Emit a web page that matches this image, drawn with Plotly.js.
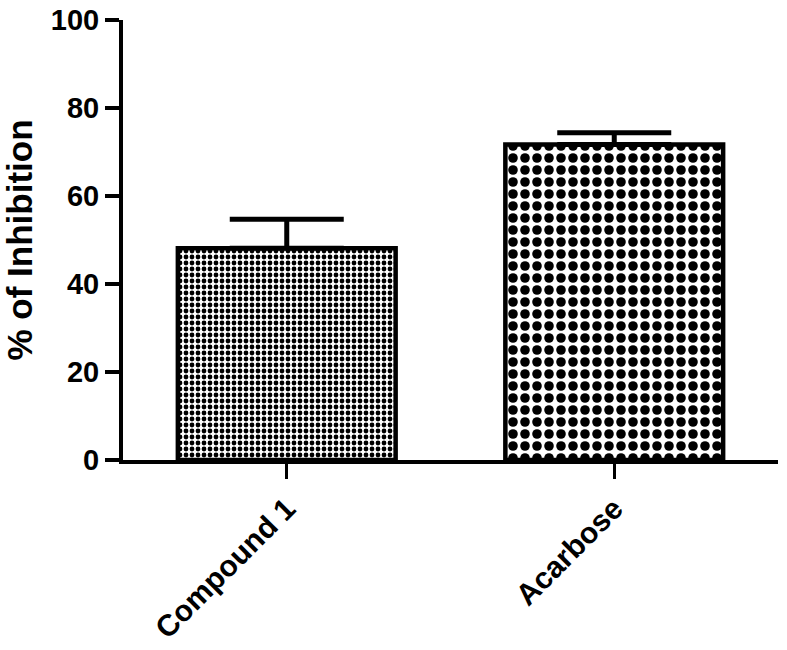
<!DOCTYPE html>
<html>
<head>
<meta charset="utf-8">
<script src="https://cdn.plot.ly/plotly-3.0.1.min.js"></script>
<style>
  body { margin: 0; background: #fff; }
  #chart { width: 787px; height: 650px; }
</style>
</head>
<body>
<div id="chart"></div>
<script>
// Data
var groups = ["Compound 1", "Acarbose"];
var inhibition = [48.1, 71.7];
var sem = [6.6, 2.7];
var noMinus = [0, 0];
var dotSizes = [6, 12];

var yTicks = [0, 20, 40, 60, 80, 100];

var font = "Liberation Sans, Arial, sans-serif";

var data = [{
  x: groups,
  y: inhibition,
  type: "bar",
  width: 0.665,
  marker: {
    color: "white",
    line: {color: "black", width: 4.5},
    pattern: {
      shape: ".",
      fgcolor: "black",
      bgcolor: "white",
      size: dotSizes,
      solidity: 0.5,
      fillmode: "replace"
    }
  },
  error_y: {
    type: "data",
    symmetric: false,
    array: sem,
    arrayminus: noMinus,
    color: "black",
    thickness: 5,
    width: 57
  },
  hoverinfo: "skip"
}];

var layout = {
  width: 787,
  height: 650,
  margin: {l: 123, r: 9, t: 20, b: 190},
  paper_bgcolor: "white",
  plot_bgcolor: "white",
  showlegend: false,
  xaxis: {
    range: [-0.5, 1.5],
    showline: true,
    linecolor: "black",
    linewidth: 4,
    ticks: "outside",
    ticklen: 15,
    tickwidth: 3,
    tickcolor: "black",
    tickangle: -45,
    showgrid: false,
    zeroline: false,
    tickfont: {family: font, size: 30, color: "black", weight: "bold"}
  },
  yaxis: {
    range: [0, 100],
    tickvals: yTicks,
    showline: true,
    linecolor: "black",
    linewidth: 4,
    ticks: "outside",
    ticklen: 14,
    tickwidth: 4,
    tickcolor: "black",
    showgrid: false,
    zeroline: false,
    tickfont: {family: font, size: 29, color: "black", weight: "bold"},
    title: {
      text: "% of Inhibition",
      font: {family: font, size: 35, color: "black", weight: "bold"},
      standoff: 16
    }
  }
};

Plotly.newPlot("chart", data, layout, {displayModeBar: false, staticPlot: true});
</script>
</body>
</html>
